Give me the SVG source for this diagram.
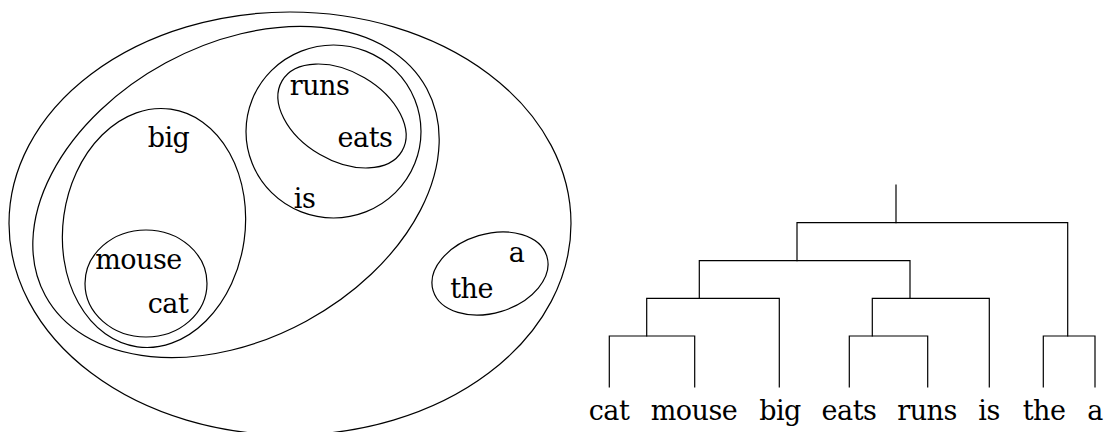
<svg xmlns="http://www.w3.org/2000/svg" width="1106" height="432" viewBox="0 0 1106 432">
<style>
.set{fill:none;stroke:#000;stroke-width:1.2}
.w{font-family:'DejaVu Serif','Liberation Serif',serif;font-size:27px;letter-spacing:-0.5px;fill:#000;text-anchor:middle}
.c{fill:none;stroke:#000;stroke-width:1.2;stroke-linecap:square}
</style>
<rect width="1106" height="432" fill="#fff"/>
<g id="set-all"><ellipse class="set" cx="290" cy="223.5" rx="281" ry="211.5"/></g>
<g id="set-nouns-verbs"><ellipse class="set" cx="236" cy="192" rx="217" ry="147" transform="rotate(-28.5 236 192)"/></g>
<g id="set-big-mouse-cat"><ellipse class="set" cx="154" cy="228" rx="91" ry="120" transform="rotate(8 154 228)"/></g>
<g id="set-mouse-cat"><ellipse class="set" cx="146" cy="283.5" rx="61" ry="53.5"/></g>
<g id="set-runs-eats-is"><ellipse class="set" cx="333.5" cy="131.5" rx="87.5" ry="86.5"/></g>
<g id="set-runs-eats"><ellipse class="set" cx="342" cy="116" rx="69.5" ry="44.4" transform="rotate(30.4 342 116)"/></g>
<g id="set-the-a"><ellipse class="set" cx="490" cy="273.5" rx="59.4" ry="39.5" transform="rotate(-16.8 490 273.5)"/></g>
<g id="word-runs"><text class="w" x="319.5" y="95">runs</text></g>
<g id="word-eats"><text class="w" x="365" y="146.5">eats</text></g>
<g id="word-big"><text class="w" x="168.5" y="146.5">big</text></g>
<g id="word-is"><text class="w" x="304.5" y="208">is</text></g>
<g id="word-mouse"><text class="w" x="138.5" y="269">mouse</text></g>
<g id="word-cat"><text class="w" x="168" y="313">cat</text></g>
<g id="word-the"><text class="w" x="471.5" y="298">the</text></g>
<g id="word-a"><text class="w" x="516.5" y="262">a</text></g>
<g id="connectors">
<path class="c" d="M609.3 387V336H694.7V387"/>
<path class="c" d="M849.3 387V336H927.7V387"/>
<path class="c" d="M1043.3 387V336H1095V387"/>
<path class="c" d="M646.7 336V298.3H779.3V387"/>
<path class="c" d="M872.3 336V298.3H989.3V387"/>
<path class="c" d="M699.3 298.3V260.7H910V298.3"/>
<path class="c" d="M797 260.7V222.7H1067.7V336"/>
<path class="c" d="M896 222.7V185"/>
</g>
<g id="leaf-cat"><text class="w" x="609" y="420">cat</text></g>
<g id="leaf-mouse"><text class="w" x="694" y="420">mouse</text></g>
<g id="leaf-big"><text class="w" x="780" y="420">big</text></g>
<g id="leaf-eats"><text class="w" x="849" y="420">eats</text></g>
<g id="leaf-runs"><text class="w" x="927" y="420">runs</text></g>
<g id="leaf-is"><text class="w" x="989" y="420">is</text></g>
<g id="leaf-the"><text class="w" x="1044" y="420">the</text></g>
<g id="leaf-a"><text class="w" x="1095" y="420">a</text></g>
</svg>
